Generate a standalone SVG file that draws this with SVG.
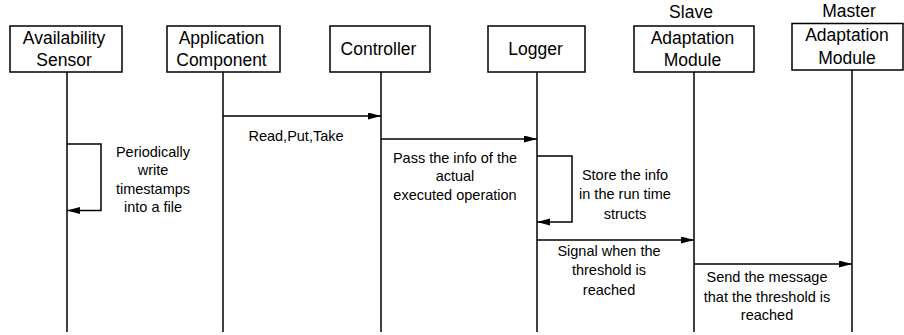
<svg xmlns="http://www.w3.org/2000/svg" width="904" height="335" viewBox="0 0 904 335">
<style>
.box{fill:#fff;stroke:#000;stroke-width:1.5}
.life{fill:none;stroke:#000;stroke-width:1.5}
.msg{fill:none;stroke:#000;stroke-width:1.5;marker-end:url(#arr)}
.h{font-family:"Liberation Sans",Arial,sans-serif;font-size:17.5px;fill:#000;text-anchor:middle}
.l{font-family:"Liberation Sans",Arial,sans-serif;font-size:14.5px;fill:#000;text-anchor:middle}
</style>
<defs>
<marker id="arr" markerUnits="userSpaceOnUse" markerWidth="14" markerHeight="8" refX="13" refY="3.5" orient="auto">
<path d="M0,0 L13,3.5 L0,7 z" fill="#000"/>
</marker>
</defs>
<rect width="904" height="335" fill="#fff"/>
<g id="availability-sensor">
<line class="life" x1="67" y1="72" x2="67" y2="332"/>
<rect class="box" x="10" y="26" width="112" height="46"/>
<text class="h" x="64" y="43.5">Availability</text>
<text class="h" x="64" y="66">Sensor</text>
</g>
<g id="application-component">
<line class="life" x1="223" y1="72" x2="223" y2="332"/>
<rect class="box" x="167" y="26" width="113" height="46"/>
<text class="h" x="221.5" y="43.5">Application</text>
<text class="h" x="221.5" y="66">Component</text>
</g>
<g id="controller">
<line class="life" x1="381" y1="72" x2="381" y2="332"/>
<rect class="box" x="330" y="26" width="100" height="46"/>
<text class="h" x="378.5" y="55">Controller</text>
</g>
<g id="logger">
<line class="life" x1="537" y1="72" x2="537" y2="332"/>
<rect class="box" x="488" y="26" width="97" height="46"/>
<text class="h" x="535.5" y="55">Logger</text>
</g>
<g id="slave-adaptation-module">
<line class="life" x1="694" y1="72" x2="694" y2="332"/>
<text class="h" x="691" y="18">Slave</text>
<rect class="box" x="634" y="26" width="120" height="46"/>
<text class="h" x="692.5" y="44">Adaptation</text>
<text class="h" x="692.5" y="66">Module</text>
</g>
<g id="master-adaptation-module">
<line class="life" x1="852" y1="70" x2="852" y2="332"/>
<text class="h" x="849" y="16.5">Master</text>
<rect class="box" x="792" y="23.5" width="111" height="46.5"/>
<text class="h" x="847" y="41">Adaptation</text>
<text class="h" x="847" y="63.5">Module</text>
</g>
<g id="connectors">
<line class="msg" x1="223" y1="116" x2="381" y2="116"/>
<line class="msg" x1="381" y1="139" x2="537" y2="139"/>
<path class="msg" d="M67,144 H101 V210.5 H67"/>
<path class="msg" d="M537,156 H572 V222 H537"/>
<line class="msg" x1="537" y1="240" x2="694" y2="240"/>
<line class="msg" x1="694" y1="264" x2="852" y2="264"/>
</g>
<g id="labels">
<text class="l" x="296" y="141">Read,Put,Take</text>
<text class="l" x="455" y="162.5">Pass the info of the</text>
<text class="l" x="455" y="181">actual</text>
<text class="l" x="455" y="200">executed operation</text>
<text class="l" x="153" y="157">Periodically</text>
<text class="l" x="153" y="175">write</text>
<text class="l" x="153" y="193.5">timestamps</text>
<text class="l" x="153" y="212">into a file</text>
<text class="l" x="625" y="180">Store the info</text>
<text class="l" x="625" y="199">in the run time</text>
<text class="l" x="625" y="219">structs</text>
<text class="l" x="609" y="255.5">Signal when the</text>
<text class="l" x="609" y="275">threshold is</text>
<text class="l" x="609" y="294.5">reached</text>
<text class="l" x="767" y="282">Send the message</text>
<text class="l" x="767" y="301.5">that the threshold is</text>
<text class="l" x="767" y="320">reached</text>
</g>
</svg>
